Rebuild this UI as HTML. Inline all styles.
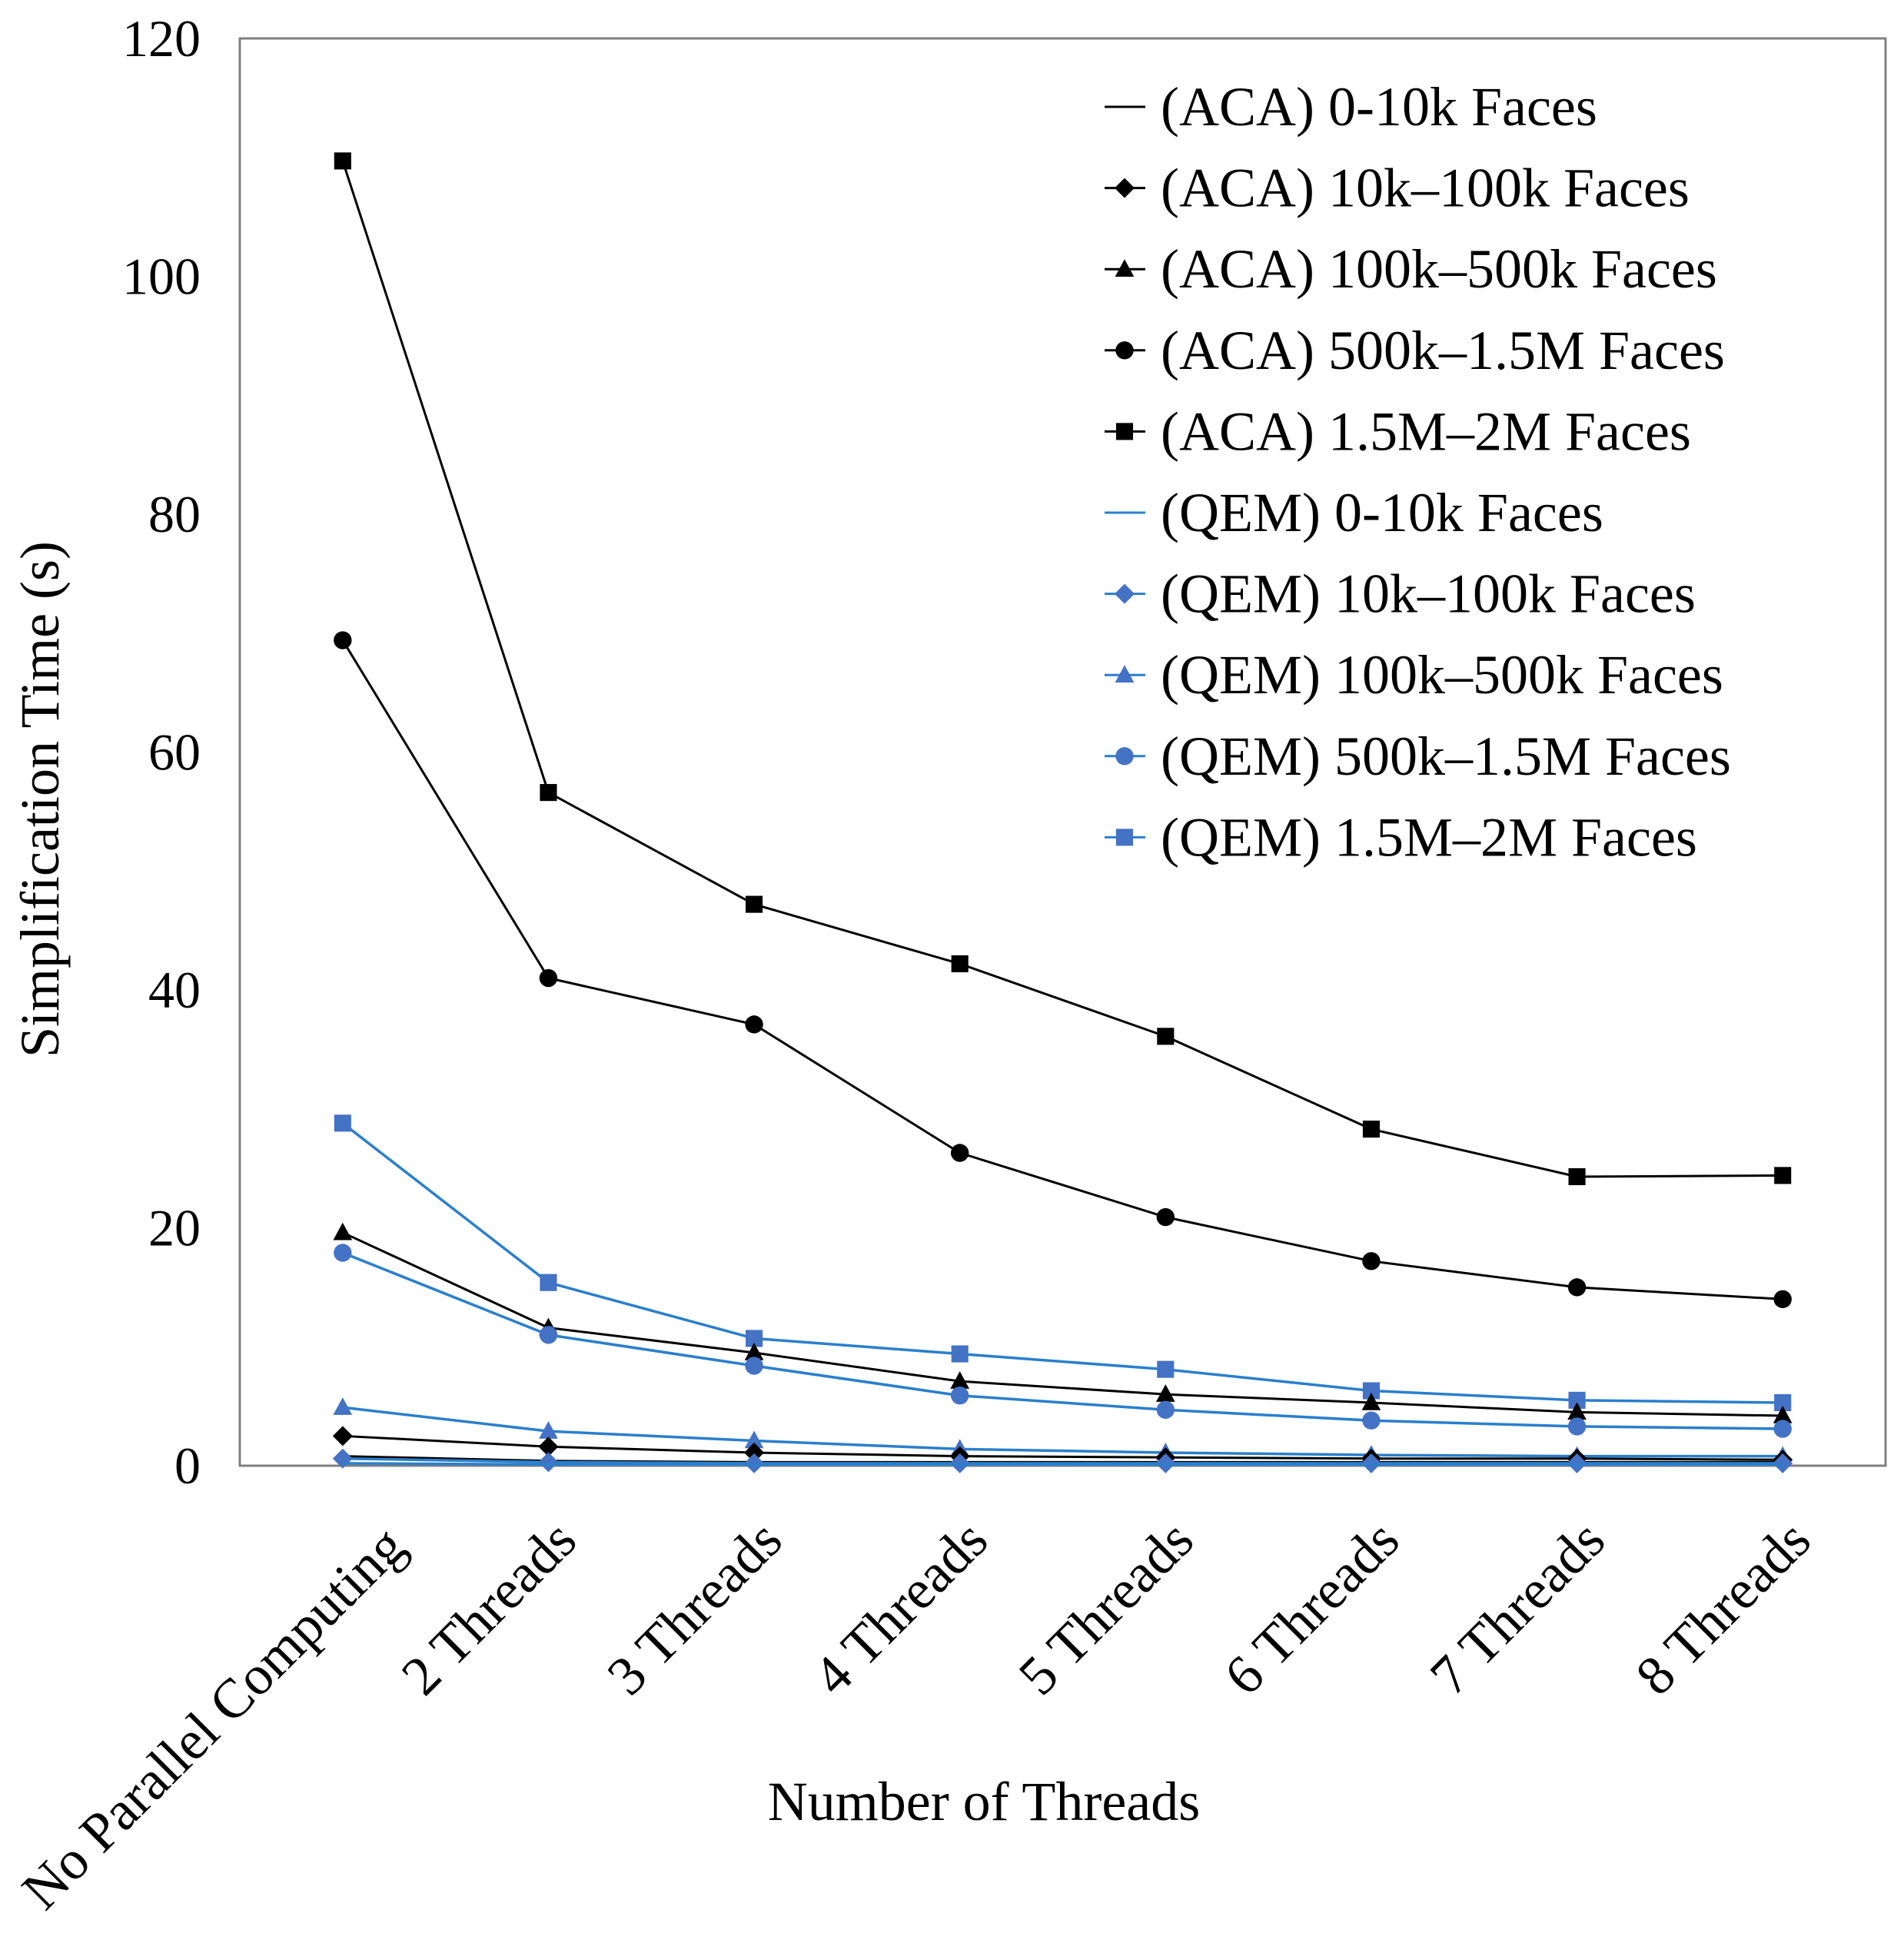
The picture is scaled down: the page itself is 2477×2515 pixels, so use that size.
<!DOCTYPE html>
<html><head><meta charset="utf-8"><style>
html,body{margin:0;padding:0;background:#fff;}
svg{display:block;font-family:"Liberation Serif",serif;}
</style></head><body>
<svg id="chart" width="2477" height="2515" viewBox="0 0 2477 2515" xmlns="http://www.w3.org/2000/svg">
<rect x="312" y="50" width="2141" height="1857" fill="#fff" stroke="#808080" stroke-width="3"/>
<g id="yticks"></g><g id="xticks"></g><g id="series"></g><g id="legend"></g>
<text x="0" y="0" transform="translate(76,1040) rotate(-90)" text-anchor="middle" font-size="72">Simplification Time (s)</text>
<text x="1280" y="2368" text-anchor="middle" font-size="72">Number of Threads</text>
</svg>
<script>
const categories=["No Parallel Computing","2 Threads","3 Threads","4 Threads","5 Threads","6 Threads","7 Threads","8 Threads"];
const yTicks=[0,20,40,60,80,100,120];
const seriesNames=["(ACA) 0-10k Faces","(ACA) 10k–100k Faces","(ACA) 100k–500k Faces","(ACA) 500k–1.5M Faces","(ACA) 1.5M–2M Faces","(QEM) 0-10k Faces","(QEM) 10k–100k Faces","(QEM) 100k–500k Faces","(QEM) 500k–1.5M Faces","(QEM) 1.5M–2M Faces"];
const aca0=[0.8,0.4,0.3,0.3,0.3,0.3,0.3,0.3];
const aca1=[2.5,1.6,1.1,0.8,0.7,0.6,0.6,0.5];
const aca2=[19.6,11.6,9.5,7.1,6.0,5.3,4.5,4.2];
const aca3=[69.4,41.0,37.1,26.3,20.9,17.2,15.0,14.0];
const aca4=[109.7,56.6,47.2,42.2,36.1,28.3,24.3,24.4];
const qem0=[0.2,0.1,0.1,0.1,0.1,0.1,0.1,0.1];
const qem1=[0.6,0.3,0.2,0.2,0.2,0.2,0.2,0.2];
const qem2=[4.9,2.9,2.1,1.4,1.1,0.9,0.8,0.8];
const qem3=[17.9,11.0,8.4,5.9,4.7,3.8,3.3,3.1];
const qem4=[28.8,15.4,10.7,9.4,8.1,6.3,5.5,5.3];
const allSeries=[aca0,aca1,aca2,aca3,aca4,qem0,qem1,qem2,qem3,qem4];
const markers=["none","diamond","triangle","circle","square","none","diamond","triangle","circle","square"];
const L=312,R=2453,T=50,B=1907,YMAX=120;
const NS="http://www.w3.org/2000/svg";
const x=i=>L+(i+0.5)*(R-L)/categories.length;
const y=v=>B-v/YMAX*(B-T);
function mk(tag,attrs,parent){const e=document.createElementNS(NS,tag);for(const k in attrs)e.setAttribute(k,attrs[k]);parent.appendChild(e);return e;}
const yt=document.getElementById('yticks');
yTicks.forEach(v=>{const t=mk('text',{x:261,y:y(v)+23,'text-anchor':'end','font-size':68},yt);t.textContent=v;

});
const xt=document.getElementById('xticks');
categories.forEach((c,i)=>{const dx=i===0?85:40;const dy=i===0?2016:2008;
const t=mk('text',{x:0,y:0,'text-anchor':'end','font-size':72,transform:`translate(${x(i)+dx},${dy}) rotate(-45)`},xt);t.textContent=c;

});
function marker(type,cx,cy,col,parent,s){
  let e=null;
  if(type==='diamond')e=mk('polygon',{points:`${cx},${cy-s} ${cx+s},${cy} ${cx},${cy+s} ${cx-s},${cy}`,fill:col},parent);
  else if(type==='triangle')e=mk('polygon',{points:`${cx},${cy-s} ${cx+s*0.95},${cy+s*0.75} ${cx-s*0.95},${cy+s*0.75}`,fill:col},parent);
  else if(type==='circle')e=mk('circle',{cx:cx,cy:cy,r:s*0.9,fill:col},parent);
  else if(type==='square')e=mk('rect',{x:cx-s*0.85,y:cy-s*0.85,width:s*1.7,height:s*1.7,fill:col},parent);
  return e;
}
const sg=document.getElementById('series');
const order=[4,3,9,2,8,7,1,0,6,5];
order.forEach(si=>{
  const d=allSeries[si];const aca=si<5;
  const g=mk('g',{},sg);
  
  
  const lc=aca?'#000':'#2a7fcc';const mc=aca?'#000':'#4472c4';
  const p=mk('polyline',{points:d.map((v,i)=>x(i)+','+y(v)).join(' '),fill:'none',stroke:lc,'stroke-width':aca?3:3.5},g);
  
  
  d.forEach((v,i)=>{const m=marker(markers[si],x(i),y(v),mc,g,13);if(m){
    
    }});
});
const lg=document.getElementById('legend');
seriesNames.forEach((n,i)=>{
  const cy=139+i*105.6;const aca=i<5;
  const g=mk('g',{},lg);
  
  
  mk('line',{x1:1437,x2:1490,y1:cy,y2:cy,stroke:aca?'#000':'#2a7fcc','stroke-width':3},g);
  marker(markers[i],1463,cy,aca?'#000':'#4472c4',g,13);
  const t=mk('text',{x:1510,y:cy+24,'font-size':72},g);t.textContent=n;
});
</script>
</body></html>
